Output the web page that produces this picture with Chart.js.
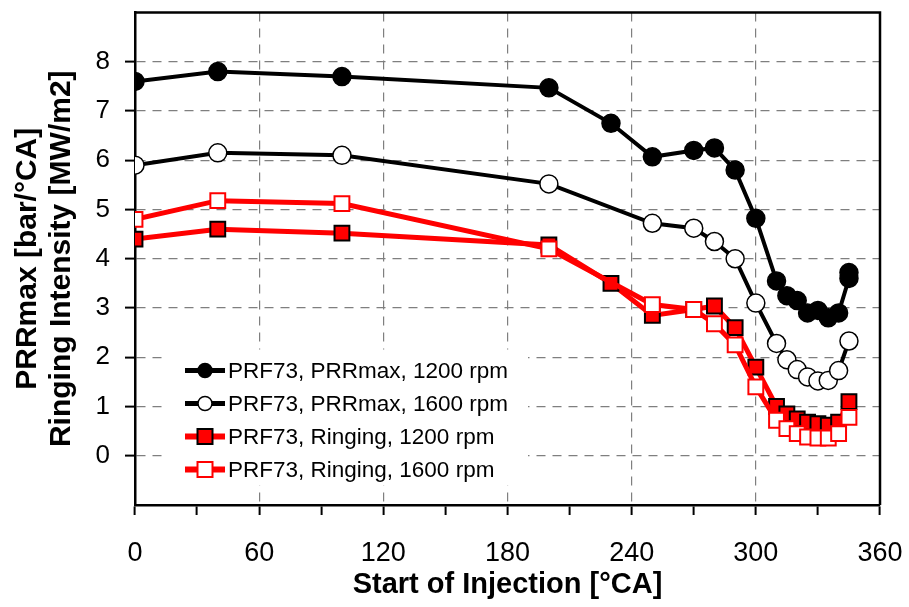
<!DOCTYPE html>
<html>
<head>
<meta charset="utf-8">
<script src="https://cdn.jsdelivr.net/npm/chart.js@4.4.1/dist/chart.umd.min.js"></script>
<style>
  html, body { margin: 0; padding: 0; background: #fff; }
  #wrap { width: 909px; height: 607px; }
</style>
</head>
<body>
<div id="wrap"><canvas id="soi-chart"></canvas></div>
<script>
// start of injection [°CA] for each series
var soiPrr1200 = [0, 40, 100, 200, 230, 250, 270, 280, 290, 300, 310, 315, 320, 325, 330, 335, 340, 345, 345];
var soiPrr1600 = [0, 40, 100, 200, 250, 270, 280, 290, 300, 310, 315, 320, 325, 330, 335, 340, 345];
var soiRing1200 = [0, 40, 100, 200, 230, 250, 270, 280, 290, 300, 310, 315, 320, 325, 330, 335, 340, 345];
var soiRing1600 = [0, 40, 100, 200, 250, 270, 280, 290, 300, 310, 315, 320, 325, 330, 335, 340, 345];

// PRRmax [bar/°CA]
var prrMax1200 = [7.6, 7.8, 7.7, 7.47, 6.75, 6.07, 6.2, 6.25, 5.8, 4.82, 3.55, 3.25, 3.15, 2.9, 2.95, 2.8, 2.9, 3.6, 3.72];
var prrMax1600 = [5.9, 6.15, 6.1, 5.52, 4.72, 4.62, 4.35, 4.0, 3.1, 2.28, 1.95, 1.75, 1.6, 1.52, 1.53, 1.73, 2.33];
// Ringing intensity [MW/m2]
var ringing1200 = [4.4, 4.6, 4.52, 4.28, 3.5, 2.85, 2.97, 3.04, 2.6, 1.8, 1.0, 0.85, 0.75, 0.68, 0.65, 0.62, 0.68, 1.1];
var ringing1600 = [4.8, 5.18, 5.12, 4.2, 3.07, 2.97, 2.68, 2.25, 1.4, 0.72, 0.55, 0.45, 0.38, 0.36, 0.36, 0.45, 0.78];

var seriesLabels = [
  'PRF73, PRRmax, 1200 rpm',
  'PRF73, PRRmax, 1600 rpm',
  'PRF73, Ringing, 1200 rpm',
  'PRF73, Ringing, 1600 rpm'
];
var xTitle = 'Start of Injection [°CA]';
var yTitle = ['PRRmax [bar/°CA]', 'Ringing Intensity [MW/m2]'];

var FONT = "'Liberation Sans', Arial, sans-serif";
var GRID = '#7f7f7f';

function toPoints(xs, ys) {
  var pts = [];
  for (var i = 0; i < xs.length; i++) {
    pts.push({ x: xs[i], y: ys[i] });
  }
  return pts;
}

// top + right edges of the plot frame
var frameBox = {
  id: 'frameBox',
  afterDraw: function (chart) {
    var a = chart.chartArea;
    var ctx = chart.ctx;
    ctx.save();
    ctx.strokeStyle = '#000';
    ctx.lineWidth = 2.5;
    ctx.beginPath();
    ctx.moveTo(a.left, a.top);
    ctx.lineTo(a.right, a.top);
    ctx.lineTo(a.right, a.bottom);
    ctx.stroke();
    ctx.restore();
  }
};

// legend inside the plot, line + marker samples
var insideLegend = {
  id: 'insideLegend',
  afterDraw: function (chart) {
    var a = chart.chartArea;
    var ctx = chart.ctx;
    var x0 = a.left + 33;
    var y0 = a.top + 337;
    ctx.save();
    ctx.fillStyle = '#fff';
    ctx.fillRect(x0, y0, 360, 136);
    var sets = chart.data.datasets;
    for (var i = 0; i < sets.length; i++) {
      var ds = sets[i];
      var cy = y0 + 21 + i * 33;
      var mx = x0 + 37;
      // line stub
      ctx.strokeStyle = ds.borderColor;
      ctx.lineWidth = ds.borderWidth + 1;
      ctx.beginPath();
      ctx.moveTo(x0 + 17, cy);
      ctx.lineTo(x0 + 57, cy);
      ctx.stroke();
      // marker
      ctx.fillStyle = ds.pointBackgroundColor;
      ctx.strokeStyle = ds.pointBorderColor;
      ctx.lineWidth = ds.pointBorderWidth;
      ctx.beginPath();
      if (ds.pointStyle === 'circle') {
        ctx.arc(mx, cy, 7, 0, Math.PI * 2);
      } else {
        ctx.rect(mx - 7.5, cy - 7.5, 15, 15);
      }
      ctx.fill();
      ctx.stroke();
      // text
      ctx.fillStyle = '#000';
      ctx.font = '22.5px ' + FONT;
      ctx.textAlign = 'left';
      ctx.textBaseline = 'middle';
      ctx.fillText(ds.label, x0 + 60, cy + 1);
    }
    ctx.restore();
  }
};

var chartConfig = {
  type: 'line',
  data: {
    datasets: [
      {
        label: seriesLabels[0],
        data: toPoints(soiPrr1200, prrMax1200),
        borderColor: '#000',
        borderWidth: 4,
        pointStyle: 'circle',
        pointRadius: 9,
        pointBackgroundColor: '#000',
        pointBorderColor: '#000',
        pointBorderWidth: 1.5,
        order: 3
      },
      {
        label: seriesLabels[1],
        data: toPoints(soiPrr1600, prrMax1600),
        borderColor: '#000',
        borderWidth: 4,
        pointStyle: 'circle',
        pointRadius: 9,
        pointBackgroundColor: '#fff',
        pointBorderColor: '#000',
        pointBorderWidth: 1.5,
        order: 2
      },
      {
        label: seriesLabels[2],
        data: toPoints(soiRing1200, ringing1200),
        borderColor: '#ff0000',
        borderWidth: 5,
        pointStyle: 'rect',
        pointRadius: 10.5,
        pointBackgroundColor: '#ff0000',
        pointBorderColor: '#000',
        pointBorderWidth: 2,
        order: 1
      },
      {
        label: seriesLabels[3],
        data: toPoints(soiRing1600, ringing1600),
        borderColor: '#ff0000',
        borderWidth: 5,
        pointStyle: 'rect',
        pointRadius: 10.5,
        pointBackgroundColor: '#fff',
        pointBorderColor: '#ff0000',
        pointBorderWidth: 2,
        order: 0
      }
    ]
  },
  options: {
    responsive: true,
    maintainAspectRatio: false,
    animation: false,
    layout: { padding: { left: 8, right: 29, top: 11, bottom: 3 } },
    plugins: {
      legend: { display: false },
      tooltip: { enabled: false }
    },
    elements: { line: { tension: 0, fill: false } },
    scales: {
      x: {
        type: 'linear',
        min: 0,
        max: 360,
        afterFit: function (scale) {
          scale.height = 99;
          scale.paddingLeft = 0;
          scale.paddingRight = 0;
        },
        border: { color: '#000', width: 2.5, dash: [9, 7] },
        grid: {
          color: function (c) {
            var v = c.tick ? c.tick.value : 0;
            return (v > 0 && v < 360 && v % 60 === 0) ? GRID : 'rgba(0,0,0,0)';
          },
          lineWidth: 1.2,
          tickColor: '#000',
          tickLength: 10,
          tickWidth: 2
        },
        ticks: {
          stepSize: 30,
          autoSkip: false,
          maxRotation: 0,
          padding: 22,
          color: '#000',
          font: { family: FONT, size: 27 },
          callback: function (v) { return v % 60 === 0 ? String(v) : ''; }
        },
        title: {
          display: true,
          text: xTitle,
          color: '#000',
          font: { family: FONT, size: 29, weight: 'bold' },
          padding: { top: 1, bottom: 2 }
        }
      },
      y: {
        type: 'linear',
        min: -1,
        max: 9,
        afterBuildTicks: function (scale) {
          scale.ticks = scale.ticks.filter(function (t) { return t.value >= 0 && t.value <= 8; });
        },
        afterFit: function (scale) {
          scale.width = 127;
          scale.paddingTop = 0;
          scale.paddingBottom = 0;
        },
        border: { color: '#000', width: 2.5, dash: [9, 7] },
        grid: {
          color: function (c) {
            var v = c.tick ? c.tick.value : -1;
            return (v >= 0 && v <= 8) ? GRID : 'rgba(0,0,0,0)';
          },
          lineWidth: 1.2,
          tickColor: '#000',
          tickLength: 10,
          tickWidth: 2
        },
        ticks: {
          stepSize: 1,
          padding: 15,
          color: '#000',
          font: { family: FONT, size: 26 }
        },
        title: {
          display: true,
          text: yTitle,
          color: '#000',
          font: { family: FONT, size: 30, weight: 'bold', lineHeight: 1.15 },
          padding: { top: 2, bottom: 4 }
        }
      }
    }
  },
  plugins: [frameBox, insideLegend]
};

var ctx = document.getElementById('soi-chart').getContext('2d');
new Chart(ctx, chartConfig);
</script>
</body>
</html>
